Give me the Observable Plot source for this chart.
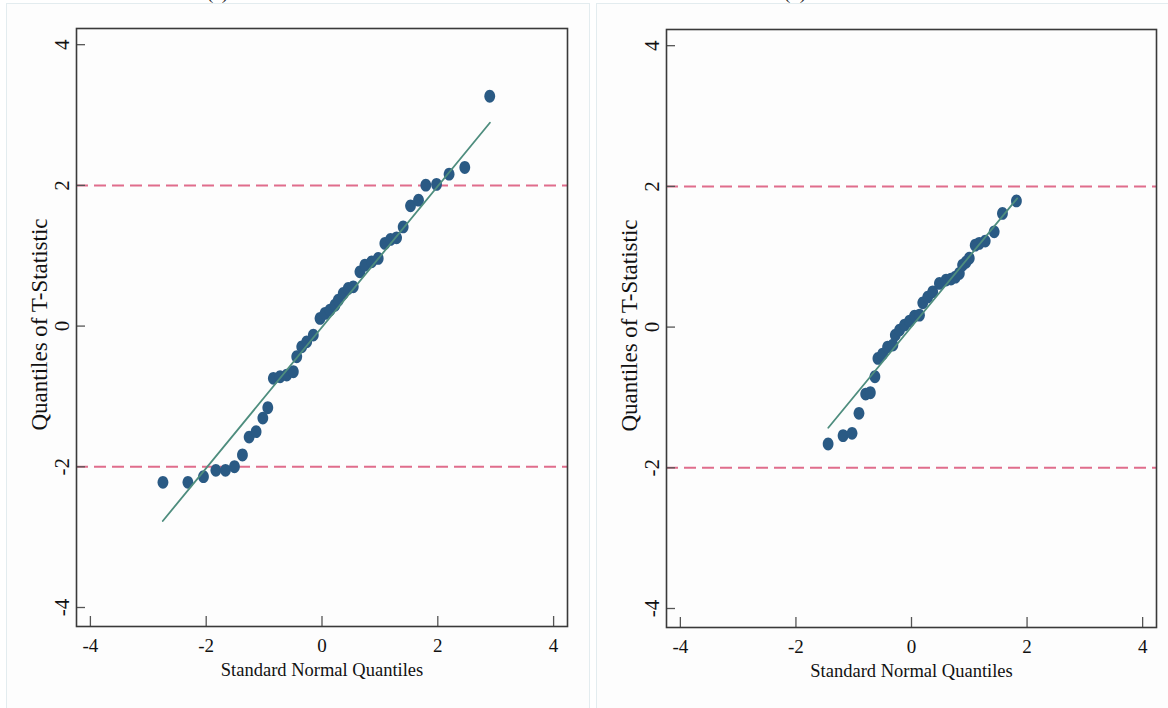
<!DOCTYPE html>
<html><head><meta charset="utf-8">
<script src="https://cdn.jsdelivr.net/npm/d3@7"></script>
<script src="https://cdn.jsdelivr.net/npm/@observablehq/plot@0.6"></script>
<style>
html,body{margin:0;padding:0;background:#ffffff;width:1168px;height:708px;overflow:hidden;position:relative;font-family:"Liberation Serif",serif;}
.panel{position:absolute;top:3px;height:720px;background:#fdfdfd;border:1px solid #e3ecef;box-sizing:border-box;overflow:hidden;}
#pa{left:6px;width:584px;}
#pb{left:596px;width:600px;}
.panel svg{position:absolute;left:0;top:0;}
.ttl{position:absolute;top:-16px;font-size:19px;line-height:18px;color:#222;font-family:"Liberation Serif",serif;}
</style></head><body>
<div class="ttl" style="left:207px">(a)</div>
<div class="ttl" style="left:784px">(b)</div>
<div class="panel" id="pa"></div>
<div class="panel" id="pb"></div>
<script>
// ---- data ----
const xTicks = [-4, -2, 0, 2, 4];
const yTicks = [-4, -2, 0, 2, 4];
const refLines = [-2, 2];
const xLabel = "Standard Normal Quantiles";
const yLabel = "Quantiles of T-Statistic";

const leftX = [-2.747,-2.316,-2.047,-1.833,-1.667,-1.512,-1.374,-1.259,-1.138,-1.022,-0.936,
  -0.840,-0.724,-0.609,-0.495,-0.436,-0.350,-0.264,-0.150,-0.034,0.052,0.138,0.224,0.281,
  0.367,0.453,0.540,0.655,0.741,0.857,0.971,1.086,1.184,1.288,1.402,1.529,1.667,1.793,
  1.978,2.195,2.466,2.897];
const leftY = [-2.220,-2.220,-2.141,-2.050,-2.050,-1.999,-1.832,-1.577,-1.501,-1.307,-1.161,
  -0.743,-0.720,-0.696,-0.649,-0.436,-0.294,-0.223,-0.128,0.109,0.180,0.227,0.298,0.369,
  0.464,0.536,0.558,0.771,0.866,0.913,0.962,1.175,1.232,1.254,1.410,1.709,1.790,2.003,
  2.013,2.159,2.254,3.267];
const leftFitX = [-2.75, 2.90];
const leftFitY = [-2.77, 2.89];

const rightX = [-1.443,-1.184,-1.029,-0.909,-0.793,-0.712,-0.633,-0.581,-0.500,-0.414,-0.322,
  -0.280,-0.207,-0.121,-0.034,0.052,0.138,0.195,0.281,0.367,0.483,0.598,0.684,0.759,0.828,
  0.884,0.943,1.000,1.103,1.172,1.276,1.431,1.574,1.816];
const rightY = [-1.662,-1.544,-1.510,-1.226,-0.952,-0.933,-0.706,-0.445,-0.384,-0.284,-0.256,
  -0.114,-0.043,0.028,0.085,0.156,0.170,0.345,0.426,0.501,0.621,0.668,0.682,0.710,0.763,
  0.881,0.923,0.980,1.165,1.189,1.222,1.354,1.615,1.794];
const rightFitX = [-1.44, 1.83];
const rightFitY = [-1.43, 1.83];

// ---- styles ----
const dotColor = "#2a5a84";
const fitColor = "#4e8d7e";
const refColor = "#e06d8c";
const frameColor = "#3a3a3a";

// slightly tall elliptical marker, as in the reference
const ellipseMarker = {
  draw(ctx) {
    const rx = 5.4, ry = 6.4, k = 0.5523;
    ctx.moveTo(rx, 0);
    ctx.bezierCurveTo(rx, ry * k, rx * k, ry, 0, ry);
    ctx.bezierCurveTo(-rx * k, ry, -rx, ry * k, -rx, 0);
    ctx.bezierCurveTo(-rx, -ry * k, -rx * k, -ry, 0, -ry);
    ctx.bezierCurveTo(rx * k, -ry, rx, -ry * k, rx, 0);
    ctx.closePath();
  }
};

function panel(xs, ys, fx, fy, mt, mb, mr) {
  const pts = xs.map((x, i) => ({x, y: ys[i]}));
  const fit = fx.map((x, i) => ({x, y: fy[i]}));
  const W = 582, H = 700, ml = 69;
  const fw = W - ml - mr, fh = H - mt - mb;
  return Plot.plot({
    width: W, height: H,
    marginLeft: ml, marginRight: mr, marginTop: mt, marginBottom: mb,
    style: {background: "transparent", fontFamily: "Liberation Serif, serif", fontSize: "18px", color: "#111"},
    x: {domain: [-4.24, 4.24], axis: null},
    y: {domain: [-4.27, 4.23], axis: null},
    marks: [
      Plot.ruleY(refLines, {y: d => d, stroke: refColor, strokeWidth: 2, strokeDasharray: "12,6"}),
      Plot.dot(pts, {x: "x", y: "y", symbol: ellipseMarker, fill: dotColor, stroke: "none"}),
      Plot.line(fit, {x: "x", y: "y", stroke: fitColor, strokeWidth: 1.8}),
      Plot.tickX(xTicks, {x: d => d, stroke: "#555", strokeWidth: 1.3, insetTop: fh - 10}),
      Plot.tickY(yTicks, {y: d => d, stroke: "#555", strokeWidth: 1.3, insetRight: fw - 9}),
      Plot.frame({stroke: frameColor, strokeWidth: 1.6}),
      Plot.text(xTicks, {x: d => d, text: d => String(d), frameAnchor: "bottom", lineAnchor: "middle", textAnchor: "middle", dy: 19, fontSize: 19, fill: "#111"}),
      Plot.text(yTicks, {y: d => d, text: d => String(d), frameAnchor: "left", lineAnchor: "middle", textAnchor: "middle", dx: -14, rotate: -90, fontSize: 21, fill: "#111"}),
      Plot.text([xLabel], {text: d => d, frameAnchor: "bottom", lineAnchor: "middle", textAnchor: "middle", dy: 44, fontSize: 18.5, fill: "#111"}),
      Plot.text([yLabel], {text: d => d, frameAnchor: "left", lineAnchor: "middle", textAnchor: "middle", dx: -37, dy: -3, rotate: -90, fontSize: 23, fill: "#111"})
    ]
  });
}

document.getElementById("pa").appendChild(panel(leftX, leftY, leftFitX, leftFitY, 24, 78, 22));
document.getElementById("pb").appendChild(panel(rightX, rightY, rightFitX, rightFitY, 25, 77, 23));
</script>
</body></html>
